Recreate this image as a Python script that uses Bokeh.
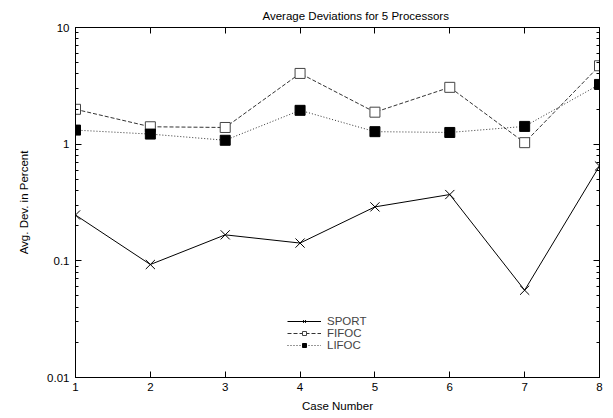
from bokeh.plotting import figure
from bokeh.models import (LogAxis, LinearAxis, FixedTicker, CustomJSTickFormatter,
                          Legend, LegendItem, ColumnDataSource)
from bokeh.embed import file_html
from bokeh.resources import INLINE

cases = [1, 2, 3, 4, 5, 6, 7, 8]
sport = [0.247, 0.093, 0.167, 0.142, 0.29, 0.37, 0.056, 0.65]
fifoc = [1.99, 1.41, 1.39, 4.04, 1.88, 3.07, 1.03, 4.70]
lifoc = [1.32, 1.22, 1.08, 1.95, 1.28, 1.26, 1.42, 3.25]

x_ticks = [1, 2, 3, 4, 5, 6, 7, 8]
y_ticks = [0.01, 0.1, 1, 10]
y_minor = [m * 10.0 ** e for e in (-2, -1, 0) for m in range(2, 10)]

title_text = "Average Deviations for 5 Processors"
x_label = "Case Number"
y_label = "Avg. Dev. in Percent"

FONT = "Liberation Sans"
FS = "11.5px"

src = ColumnDataSource(dict(x=cases, sport=sport, fifoc=fifoc, lifoc=lifoc))

p = figure(width=605, height=414, y_axis_type="log",
           x_range=(1, 8), y_range=(0.01, 10),
           output_backend="svg", toolbar_location=None,
           min_border_left=75, min_border_right=6,
           min_border_top=27, min_border_bottom=36)
p.grid.visible = False
p.outline_line_color = "black"
p.outline_line_width = 1
p.background_fill_color = "white"
p.border_fill_color = "white"

p.title.text = title_text
p.title.align = "left"
p.title.offset = 187
p.title.text_font = FONT
p.title.text_font_size = FS
p.title.text_font_style = "normal"
p.title.text_color = "black"
p.title.standoff = 12

num_fmt = CustomJSTickFormatter(code="return String(tick);")
blank_fmt = CustomJSTickFormatter(code="return '';")

def style_axis(ax):
    ax.axis_line_color = "black"
    ax.major_tick_in = 6
    ax.major_tick_out = 0
    ax.minor_tick_in = 3
    ax.minor_tick_out = 0
    ax.major_tick_line_color = "black"
    ax.minor_tick_line_color = "black"
    ax.major_label_text_font = FONT
    ax.major_label_text_font_size = FS
    ax.major_label_text_color = "black"
    ax.axis_label_text_font = FONT
    ax.axis_label_text_font_size = FS
    ax.axis_label_text_font_style = "normal"
    ax.axis_label_text_color = "black"

xa = p.xaxis[0]
xa.ticker = FixedTicker(ticks=x_ticks, minor_ticks=[])
xa.axis_label = x_label
xa.major_label_standoff = 5
xa.axis_label_standoff = 6
style_axis(xa)

ya = p.yaxis[0]
ya.ticker = FixedTicker(ticks=y_ticks, minor_ticks=y_minor)
ya.formatter = num_fmt
ya.axis_label = y_label
ya.major_label_standoff = 6
ya.axis_label_standoff = 14
style_axis(ya)

ra = LogAxis(ticker=FixedTicker(ticks=y_ticks, minor_ticks=y_minor), formatter=blank_fmt)
style_axis(ra)
ra.major_label_standoff = 0
p.add_layout(ra, "right")

ta = LinearAxis(ticker=FixedTicker(ticks=x_ticks, minor_ticks=[]), formatter=blank_fmt)
style_axis(ta)
ta.major_label_standoff = 0
p.add_layout(ta, "above")

r_sport_l = p.line("x", "sport", source=src, line_color="black", line_width=1)
r_sport_m = p.scatter("x", "sport", source=src, marker="x", size=13,
                      line_color="black", line_width=1)
r_fifo_l = p.line("x", "fifoc", source=src, line_color="#333333", line_width=1,
                  line_dash="4 2")
r_fifo_m = p.scatter("x", "fifoc", source=src, marker="square", size=10,
                     line_color="#444444", fill_color="white", line_width=1)
r_lifo_l = p.line("x", "lifoc", source=src, line_color="#333333", line_width=1,
                  line_dash="1 2")
r_lifo_m = p.scatter("x", "lifoc", source=src, marker="square", size=10,
                     line_color="black", fill_color="black", line_width=1)

legend = Legend(items=[
    LegendItem(label="SPORT", renderers=[r_sport_l, r_sport_m]),
    LegendItem(label="FIFOC", renderers=[r_fifo_l, r_fifo_m]),
    LegendItem(label="LIFOC", renderers=[r_lifo_l, r_lifo_m]),
], location=(212, 26), orientation="vertical",
   glyph_width=34, glyph_height=10, label_height=10, spacing=0,
   padding=0, margin=0, label_standoff=6,
   label_text_font=FONT, label_text_font_size=FS,
   border_line_color=None, background_fill_alpha=0)
p.add_layout(legend, "center")

open("out.html", "w").write(file_html(p, INLINE))
